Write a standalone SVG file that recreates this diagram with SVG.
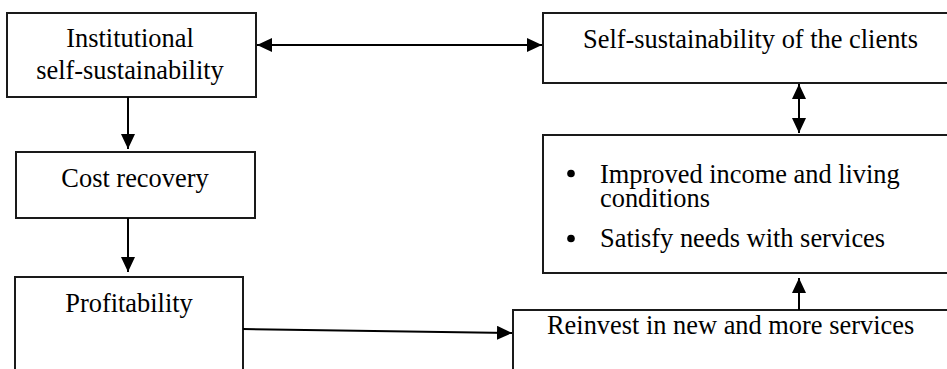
<svg xmlns="http://www.w3.org/2000/svg" width="947" height="369" viewBox="0 0 947 369">
<style>
.box{fill:#fff;stroke:#1a1a1a;stroke-width:2}
.t{font-size:26.4px;fill:#000}
.c{text-anchor:middle}
.con{stroke:#000;stroke-width:2;fill:none}
</style>
<defs>
<marker id="ah" viewBox="0 0 15 14" refX="15" refY="7" markerWidth="15" markerHeight="14" markerUnits="userSpaceOnUse" orient="auto-start-reverse">
<path d="M0,0 L15,7 L0,14 z" fill="#000"/>
</marker>
</defs>
<rect width="947" height="369" fill="#fff"/>
<g font-family="Liberation Serif, Times New Roman, serif">
<g id="institutional">
<rect class="box" x="7" y="13" width="249" height="84"/>
<text class="t c" x="130" y="47">Institutional</text>
<text class="t c" x="130" y="79">self-sustainability</text>
</g>
<g id="clients">
<rect class="box" x="543" y="13" width="420" height="70"/>
<text class="t" x="583" y="48">Self-sustainability of the clients</text>
</g>
<g id="cost">
<rect class="box" x="16" y="152" width="239" height="66"/>
<text class="t c" x="135" y="187">Cost recovery</text>
</g>
<g id="improved">
<rect class="box" x="543" y="135" width="420" height="138"/>
<circle cx="571" cy="173.5" r="3.8" fill="#000"/>
<text class="t" x="600" y="183">Improved income and living</text>
<text class="t" x="600" y="207">conditions</text>
<circle cx="571" cy="238.5" r="3.8" fill="#000"/>
<text class="t" x="600" y="246.5">Satisfy needs with services</text>
</g>
<g id="profitability">
<rect class="box" x="15" y="277" width="228" height="120"/>
<text class="t c" x="129" y="312">Profitability</text>
</g>
<g id="reinvest">
<rect class="box" x="513" y="310" width="450" height="80"/>
<text class="t" x="547" y="334">Reinvest in new and more services</text>
</g>
</g>
<g id="connectors">
<line class="con" x1="257" y1="45" x2="542" y2="45" marker-start="url(#ah)" marker-end="url(#ah)"/>
<line class="con" x1="128" y1="97" x2="128" y2="149" marker-end="url(#ah)"/>
<line class="con" x1="128" y1="218" x2="128" y2="272" marker-end="url(#ah)"/>
<line class="con" x1="243" y1="329" x2="512" y2="333" marker-end="url(#ah)"/>
<line class="con" x1="799" y1="310" x2="799" y2="278" marker-end="url(#ah)"/>
<line class="con" x1="799" y1="84" x2="799" y2="133" marker-start="url(#ah)" marker-end="url(#ah)"/>
</g>
</svg>
